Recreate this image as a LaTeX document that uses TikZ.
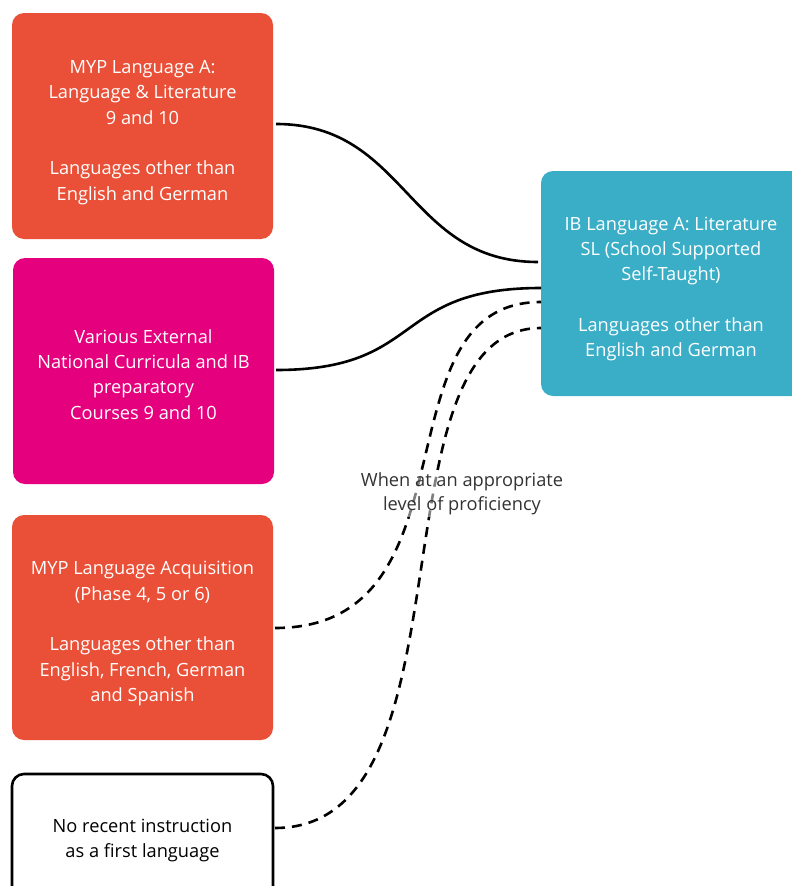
\documentclass[tikz,border=0pt]{standalone}
\usepackage{fontspec}
\setmainfont{Open Sans}
\definecolor{ibOrange}{RGB}{233,80,55}
\definecolor{ibMagenta}{RGB}{229,0,126}
\definecolor{ibTeal}{RGB}{58,173,199}
\begin{document}
\begin{tikzpicture}[x=1bp,y=-1bp,
  box/.style={rounded corners=12bp, inner sep=0pt, align=center,
    font=\fontsize{18.3}{25.4}\selectfont, text=white},
  conn/.style={line width=2.6bp, black},
  dconn/.style={conn, dash pattern=on 10bp off 7bp}]
\useasboundingbox (0,0) rectangle (792,886);
% boxes
\fill[ibOrange, rounded corners=12bp] (12,13) rectangle (273,239);
\node[box] (a) at (142.5,132.5) {MYP Language A:\\Language \& Literature\\9 and 10\\[25.4bp]Languages other than\\English and German};
\fill[ibMagenta, rounded corners=12bp] (13,258) rectangle (274,484);
\node[box] (b) at (143.5,374.5) {Various External\\National Curricula and IB\\preparatory\\Courses 9 and 10};
\fill[ibOrange, rounded corners=12bp] (12,515) rectangle (273,740);
\node[box] (c) at (142.5,633.5) {MYP Language Acquisition\\(Phase 4, 5 or 6)\\[25.4bp]Languages other than\\English, French, German\\and Spanish};
\draw[line width=2.6bp, rounded corners=12bp] (12,774) rectangle (273,905);
\node[box, text=black] (d) at (142.5,840.5) {No recent instruction\\as a first language};
\fill[ibTeal, rounded corners=12bp] (541,171) rectangle (810,396);
\node[box] (e) at (671,289) {IB Language A: Literature\\SL (School Supported\\Self-Taught)\\[25.4bp]Languages other than\\English and German};
% anchors
\coordinate (a1) at (276,124);
\coordinate (b1) at (276,370);
\coordinate (c1) at (275,628);
\coordinate (d1) at (275,828);
\coordinate (e1) at (538,262);
\coordinate (e2) at (541,288);
\coordinate (e3) at (541,302);
\coordinate (e4) at (541,328);
% connectors
\draw[conn] (a1) .. controls (407,124) and (407,262) .. (e1);
\draw[conn] (b1) .. controls (426,370) and (390,288) .. (e2);
\draw[dconn] (c1) .. controls (482,628) and (374,302) .. (e3);
\draw[dconn] (d1) .. controls (480,828) and (367,328) .. (e4);
% label
\node[fill=white, fill opacity=0.5, text opacity=1, inner sep=2bp, align=center,
  font=\fontsize{18.3}{24}\selectfont, text=black!80] (lbl) at (462,494) {When at an appropriate\\level of proficiency};
\end{tikzpicture}
\end{document}
